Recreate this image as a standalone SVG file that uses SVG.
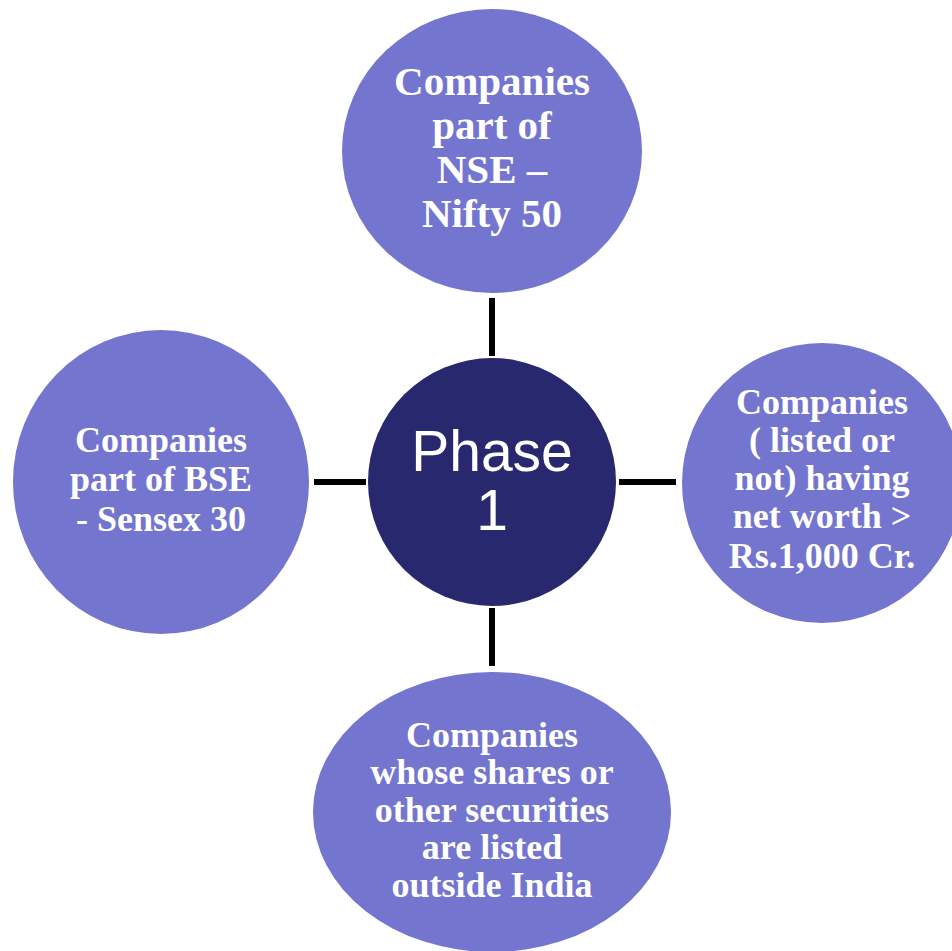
<svg xmlns="http://www.w3.org/2000/svg" width="952" height="951" viewBox="0 0 952 951">
<style>
.sat{fill:#7475cf}
.hub{fill:#28286f}
.lbl{font-family:"Liberation Serif","Times New Roman",serif;font-weight:bold;fill:#ffffff;text-anchor:middle}
.hubt{font-family:"Liberation Sans",Arial,sans-serif;fill:#ffffff;text-anchor:middle;font-size:57px}
.con{stroke:#000000;stroke-width:6;fill:none}
</style>
<rect width="952" height="951" fill="#ffffff"/>
<g id="connectors">
<line class="con" x1="492" y1="298" x2="492" y2="356"/>
<line class="con" x1="492" y1="608" x2="492" y2="666"/>
<line class="con" x1="314" y1="482" x2="366" y2="482"/>
<line class="con" x1="619" y1="482" x2="676" y2="482"/>
</g>
<g id="node-top">
<ellipse class="sat" cx="492" cy="151" rx="150" ry="142"/>
<text class="lbl" font-size="41" x="492"><tspan x="492" y="95">Companies</tspan><tspan x="492" y="139">part of</tspan><tspan x="492" y="183">NSE –</tspan><tspan x="492" y="227">Nifty 50</tspan></text>
</g>
<g id="node-left">
<ellipse class="sat" cx="161" cy="482" rx="148" ry="152"/>
<text class="lbl" font-size="36" x="161"><tspan x="161" y="452">Companies</tspan><tspan x="161" y="491">part of  BSE</tspan><tspan x="161" y="531">- Sensex 30</tspan></text>
</g>
<g id="node-right">
<ellipse class="sat" cx="822" cy="483" rx="140" ry="140"/>
<text class="lbl" font-size="36" x="822"><tspan x="822" y="414">Companies</tspan><tspan x="822" y="452">( listed or</tspan><tspan x="822" y="490">not) having</tspan><tspan x="822" y="528">net worth &gt;</tspan><tspan x="822" y="568">Rs.1,000 Cr.</tspan></text>
</g>
<g id="node-bottom">
<ellipse class="sat" cx="492" cy="812" rx="179" ry="140"/>
<text class="lbl" font-size="36" x="492"><tspan x="492" y="747">Companies</tspan><tspan x="492" y="784">whose shares or</tspan><tspan x="492" y="822">other securities</tspan><tspan x="492" y="859">are listed</tspan><tspan x="492" y="897">outside India</tspan></text>
</g>
<g id="node-center">
<circle class="hub" cx="492" cy="482" r="124"/>
<text class="hubt"><tspan x="492" y="471">Phase</tspan><tspan x="492" y="530">1</tspan></text>
</g>
</svg>
